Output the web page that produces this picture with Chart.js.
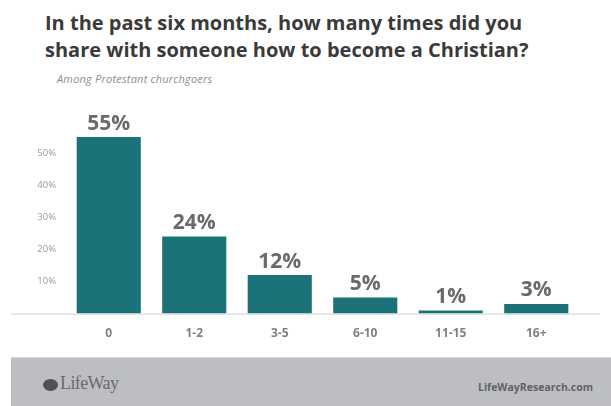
<!DOCTYPE html>
<html>
<head>
<meta charset="utf-8">
<script src="https://cdn.jsdelivr.net/npm/chart.js@4/dist/chart.umd.min.js"></script>
<style>
  html, body { margin: 0; padding: 0; background: #fff; }
  body { width: 611px; height: 406px; position: relative; overflow: hidden; font-family: "Open Sans", sans-serif; }
  #title { position: absolute; left: 45px; top: 9px; font-size: 20px; font-weight: bold; color: #3a3a3a; line-height: 27px; }
  #subtitle { position: absolute; left: 57px; top: 71px; font-size: 11px; font-style: italic; color: #8e8e8e; letter-spacing: 0.2px; }
  #chartBox { position: absolute; left: 0; top: 0; width: 611px; height: 406px; }
  #footer { position: absolute; left: 11px; right: 0; top: 357px; height: 49px; background: #bdbec2; border-top: 1px solid #d8d8da; }
  #icon { position: absolute; left: 32px; top: 21px; width: 15px; height: 12px; border-radius: 50%; background: #525255; }
  #logo { position: absolute; left: 49px; top: 15px; font-family: "Liberation Serif", serif; font-size: 18px; color: #6a6a6d; letter-spacing: -0.6px; }
  #site { position: absolute; right: 18px; top: 22px; font-size: 10.5px; font-weight: bold; color: #626265; }
</style>
</head>
<body>
<div id="title">In the past six months, how many times did you<br>share with someone how to become a Christian?</div>
<div id="subtitle">Among Protestant churchgoers</div>
<div id="chartBox"><canvas id="chart" width="611" height="406"></canvas></div>
<div id="footer"><div id="icon"></div><div id="logo">LifeWay</div><div id="site">LifeWayResearch.com</div></div>
<script>
const categories = ['0', '1-2', '3-5', '6-10', '11-15', '16+'];
const shares = [55, 24, 12, 5, 1, 3];
const yTicks = [10, 20, 30, 40, 50];

// value labels above each bar
const valueLabels = {
  id: 'valueLabels',
  afterDatasetsDraw(chart) {
    const ctx = chart.ctx;
    const meta = chart.getDatasetMeta(0);
    ctx.save();
    ctx.font = 'bold 21px "Open Sans", sans-serif';
    ctx.fillStyle = '#6a6a6a';
    ctx.textAlign = 'center';
    ctx.textBaseline = 'bottom';
    meta.data.forEach((bar, i) => {
      ctx.fillText(shares[i] + '%', bar.x, bar.y - 3);
    });
    ctx.restore();
  }
};

// long baseline running past the plot area
const baseline = {
  id: 'baseline',
  beforeDatasetsDraw(chart) {
    const ctx = chart.ctx;
    const y = chart.chartArea.bottom + 0.5;
    ctx.save();
    ctx.strokeStyle = '#cfcfcf';
    ctx.lineWidth = 1;
    ctx.beginPath();
    ctx.moveTo(11, y);
    ctx.lineTo(chart.width - 11, y);
    ctx.stroke();
    ctx.restore();
  }
};

new Chart(document.getElementById('chart'), {
  type: 'bar',
  data: {
    labels: categories,
    datasets: [{
      data: shares,
      backgroundColor: '#1b7379',
      borderWidth: 0,
      categoryPercentage: 1,
      barPercentage: 0.75
    }]
  },
  options: {
    responsive: false,
    animation: false,
    layout: { padding: { left: 26, right: 32, top: 121, bottom: 60 } },
    plugins: {
      legend: { display: false },
      tooltip: { enabled: false }
    },
    scales: {
      x: {
        grid: { display: false },
        border: { display: false },
        ticks: {
          color: '#808080',
          font: { family: '"Open Sans", sans-serif', size: 12, weight: 'bold' },
          padding: 5
        }
      },
      y: {
        min: 0,
        max: 60,
        grid: { display: false },
        border: { display: false },
        afterFit(scale) { scale.width = 40; },
        afterBuildTicks(scale) { scale.ticks = yTicks.map(v => ({ value: v })); },
        ticks: {
          color: '#9a9a9a',
          font: { family: '"Open Sans", sans-serif', size: 9.5 },
          padding: 2,
          callback: v => v + '%'
        }
      }
    }
  },
  plugins: [baseline, valueLabels]
});
</script>
</body>
</html>
